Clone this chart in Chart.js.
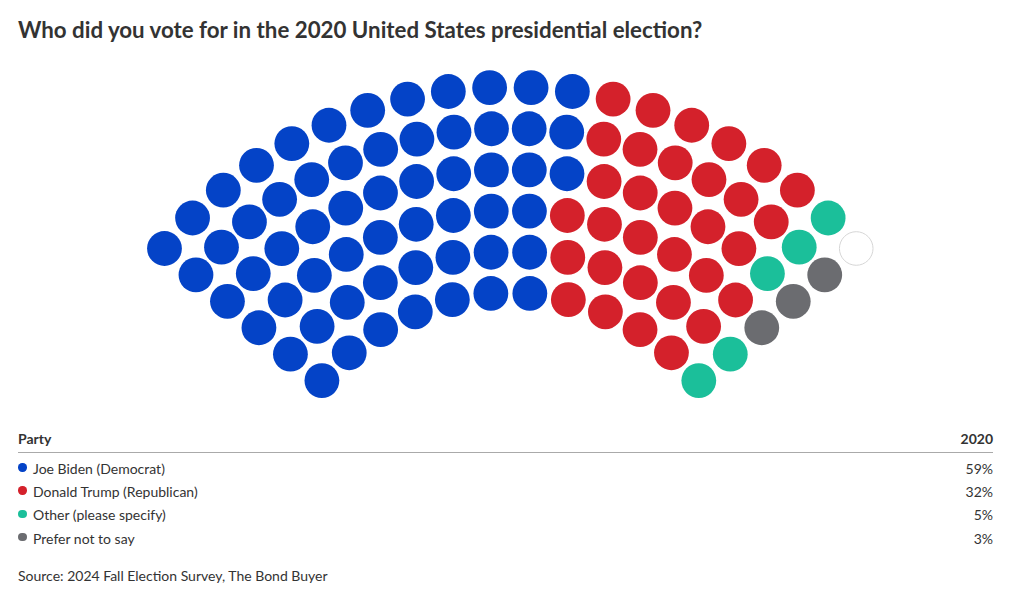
<!DOCTYPE html>
<html>
<head>
<meta charset="utf-8">
<script src="https://cdn.jsdelivr.net/npm/chart.js@4/dist/chart.umd.min.js"></script>
<style>
body{margin:0;background:#fff;font-family:Lato,"Noto Sans",sans-serif;color:#333;}
#page{position:relative;width:1020px;height:603px;overflow:hidden;}
h1{position:absolute;left:18px;top:15.6px;margin:0;font-size:22.3px;line-height:27px;font-weight:700;color:#333;white-space:nowrap;}
#chartBox{position:absolute;left:0;top:60px;width:1020px;height:350px;}
table{position:absolute;left:18px;top:427.4px;width:975px;border-collapse:collapse;font-size:14px;}
th{font-weight:700;text-align:left;line-height:23.4px;padding:0 0 1px 0;border-bottom:1px solid #aaa;}
td{line-height:23.33px;padding:0;}
tbody tr:first-child td{padding-top:4px;}
.num{text-align:right;}
.dot{display:inline-block;width:8.4px;height:8.4px;border-radius:50%;margin:0 6.3px 0 0.3px;vertical-align:2.3px;}
#source{position:absolute;left:18px;top:564.3px;font-size:14px;line-height:24px;color:#333;}
</style>
</head>
<body>
<div id="page">
<h1>Who did you vote for in the 2020 United States presidential election?</h1>
<div id="chartBox"><canvas id="seats"></canvas></div>
<table>
<thead><tr><th>Party</th><th class="num" id="colHead"></th></tr></thead>
<tbody id="rows"></tbody>
</table>
<div id="source">Source: 2024 Fall Election Survey, The Bond Buyer</div>
</div>
<script>
// data
const parties = ["Joe Biden (Democrat)", "Donald Trump (Republican)", "Other (please specify)", "Prefer not to say"];
const shares = [59, 32, 5, 3];
const colors = ["#0443c7", "#d4212b", "#1bbf9a", "#6b6c70"];
const yearLabel = "2020";

// parliament layout
const totalSeats = 100;
const rowSeats = [12, 14, 16, 18, 20, 20];
const innerR = 246;
const outerR = 451.5;
const startAngle = 140;
const arcSpan = 100;
const centerX = 510.35;
const centerY = 478.7; // inside the canvas box

let seats = [];
rowSeats.forEach(function(n, row){
  const r = innerR + (outerR - innerR) * row / (rowSeats.length - 1);
  for(let k = 0; k < n; k++){
    const a = startAngle - arcSpan * k / (n - 1);
    const rad = a * Math.PI / 180;
    seats.push({angle: a, row: row, x: r * Math.cos(rad), y: r * Math.sin(rad)});
  }
});
seats.sort(function(p, q){
  if(Math.abs(p.angle - q.angle) > 1e-9) return q.angle - p.angle;
  return p.row - q.row;
});

let datasets = [];
let pos = 0;
parties.forEach(function(name, i){
  const count = Math.round(shares[i] * totalSeats / 100);
  datasets.push({
    label: name,
    data: seats.slice(pos, pos + count).map(s => ({x: s.x, y: s.y})),
    backgroundColor: colors[i],
    borderWidth: 0,
    pointRadius: 17.4
  });
  pos += count;
});
datasets.push({
  label: "empty",
  data: seats.slice(pos).map(s => ({x: s.x, y: s.y})),
  backgroundColor: "#fff",
  borderColor: "#d6d6d6",
  borderWidth: 1,
  pointRadius: 16.8
});

new Chart(document.getElementById("seats"), {
  type: "scatter",
  data: {datasets: datasets},
  options: {
    responsive: true,
    maintainAspectRatio: false,
    animation: false,
    events: [],
    layout: {padding: 0, autoPadding: false},
    plugins: {legend: {display: false}, tooltip: {enabled: false}},
    scales: {
      x: {display: false, min: -centerX, max: 1020 - centerX},
      y: {display: false, min: centerY - 350, max: centerY}
    }
  }
});

// legend table
document.getElementById("colHead").textContent = yearLabel;
const body = document.getElementById("rows");
parties.forEach(function(name, i){
  const tr = document.createElement("tr");
  tr.innerHTML = '<td><span class="dot" style="background:' + colors[i] + '"></span>' + name + '</td><td class="num">' + shares[i] + '%</td>';
  body.appendChild(tr);
});
</script>
</body>
</html>
